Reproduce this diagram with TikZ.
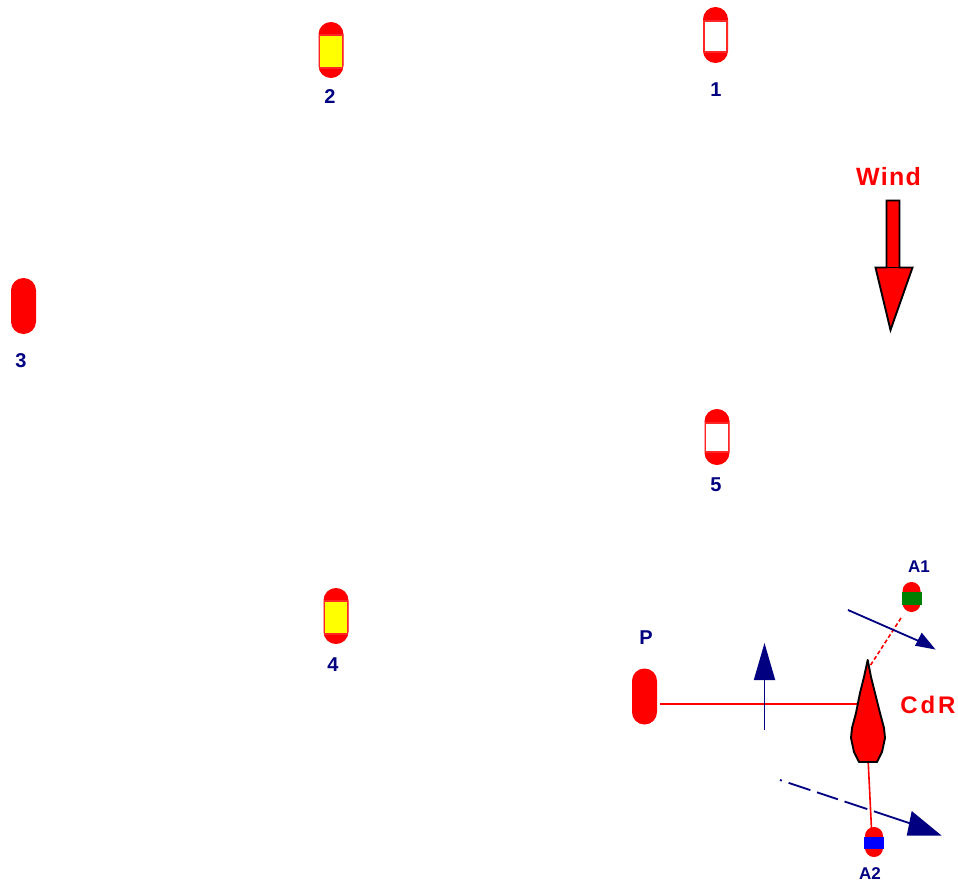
\documentclass[tikz,border=0pt]{standalone}
\usepackage{fontspec}
\setmainfont{Liberation Sans}
\usetikzlibrary{arrows.meta}
\definecolor{navyink}{RGB}{0,0,128}
\definecolor{buoyred}{RGB}{255,0,0}
\definecolor{gate}{RGB}{255,255,0}
\definecolor{agreen}{RGB}{0,128,0}
\definecolor{ablue}{RGB}{0,0,255}
\tikzset{
  buoy/.style={fill=buoyred,rounded corners=12.4pt,minimum width=25pt,minimum height=56pt,inner sep=0pt},
  smallbuoy/.style={fill=buoyred,rounded corners=8.9pt,minimum width=18pt,minimum height=30pt,inner sep=0pt},
  band/.style={draw=buoyred!85!white,line width=1.8pt,minimum width=23pt,minimum height=31pt,inner sep=0pt},
  tag/.style={text=navyink,font=\bfseries\fontsize{20}{20}\selectfont,inner sep=0pt},
  smalltag/.style={text=navyink,font=\bfseries\fontsize{17}{17}\selectfont,inner sep=0pt},
  leg/.style={draw=buoyred,line width=1.6pt},
  force/.style={draw=navyink,line width=1.8pt},
  headfill/.style={fill=navyink},
  outlined/.style={fill=buoyred,draw=black,line width=1.9pt,line join=round},
}
\newfontfamily\spacedfont[LetterSpace=12,BoldFont={Liberation Sans Bold}]{Liberation Sans}
\newfontfamily\windfont[LetterSpace=5,BoldFont={Liberation Sans Bold}]{Liberation Sans}
\begin{document}
\begin{tikzpicture}[x=1pt,y=-1pt]
\useasboundingbox (0,0) rectangle (958,883);
% course marks
\node[buoy] (m1) at (715.5,35) {};
\node[band,fill=white] (b1) at (715.5,36.5) {};
\node[tag] (t1) at (716,90) {1};
\node[buoy] (m2) at (331,50) {};
\node[band,fill=gate,minimum height=33pt] (b2) at (331,51.5) {};
\node[tag] (t2) at (330,97) {2};
\node[buoy] (m3) at (23.5,306) {};
\node[tag] (t3) at (21,361) {3};
\node[buoy] (m4) at (336,616) {};
\node[band,fill=gate,minimum height=33pt] (b4) at (336,617.5) {};
\node[tag] (t4) at (333,665) {4};
\node[buoy] (m5) at (717,437) {};
\node[band,fill=white,minimum height=29pt] (b5) at (717,437.5) {};
\node[tag] (t5) at (716,485) {5};
% wind
\node[text=buoyred,font=\windfont\bfseries\fontsize{25}{25}\selectfont,inner sep=0pt] (wl) at (888.5,177) {Wind};
\draw[outlined,line join=miter]
  (886.5,200.5) -- (899.5,200.5) -- (899.5,267.5) -- (912.5,267.5) -- (890.5,330) -- (875.5,267.5) -- (886.5,267.5) -- cycle;
\draw[black,line width=1.9pt] (886.5,267.5) -- (899.5,267.5);
% committee boat group
\node[buoy] (P) at (644.5,696.5) {};
\node[tag] (pl) at (646,638) {P};
\node[smallbuoy] (A1) at (911.5,597) {};
\node[fill=agreen,minimum width=20pt,minimum height=13pt,inner sep=0pt] (g1) at (911.5,598) {};
\node[smalltag] (a1l) at (919,567) {A1};
\node[smallbuoy] (A2) at (874,842) {};
\node[fill=ablue,minimum width=20pt,minimum height=12pt,inner sep=0pt] (g2) at (874,843) {};
\node[smalltag] (a2l) at (870,874) {A2};
\node[inner sep=0pt,minimum width=34pt,minimum height=103pt] (boat) at (868,711) {};
\node[text=buoyred,font=\spacedfont\bfseries\fontsize{24}{24}\selectfont,inner sep=0pt] (cdr) at (928,705) {CdR};
% connectors (ends tucked under the boat)
\coordinate (pj) at (660,704);
\coordinate (bj) at (862,704);
\coordinate (a1j) at (901,618);
\coordinate (bowj) at (870,666);
\coordinate (a2j) at (871.5,829);
\coordinate (sternj) at (868,758);
\draw[leg] (pj) -- (bj);
\draw[leg,dash pattern=on 4pt off 2.5pt] (a1j) -- (bowj);
\draw[leg] (sternj) -- (a2j);
% force arrows
\coordinate (f1a) at (764.5,730);
\coordinate (f1b) at (764.5,643);
\draw[force,-{Triangle[length=37pt,width=21pt]}] (f1a) -- (f1b);
\coordinate (f2a) at (848,610);
\coordinate (f2m) at (921,642);
\coordinate (f2b) at (935.5,649.5);
\draw[force] (f2a) -- (f2m);
\fill[headfill] (f2b) -- (921.7,632.7) -- (915,645.7) -- cycle;
\coordinate (f3a) at (780,780);
\coordinate (f3m) at (912,824);
\coordinate (f3b) at (941.5,835.5);
\draw[force,dash pattern=on 2pt off 7pt on 23pt off 7pt on 22pt off 7pt on 24pt off 7pt on 90pt off 1pt] (f3a) -- (f3m);
\fill[headfill] (f3b) -- (911.7,811) -- (906.7,835.7) -- cycle;
% boat hull
\draw[outlined]
  (867.7,660) -- (871,677) -- (875,693) -- (880,713) -- (884,728) -- (885,738) -- (882,752) -- (877,762)
  -- (859,762) -- (854,752) -- (851,738) -- (852,728) -- (856,713) -- (860,693) -- (864,677) -- cycle;
\end{tikzpicture}
\end{document}
